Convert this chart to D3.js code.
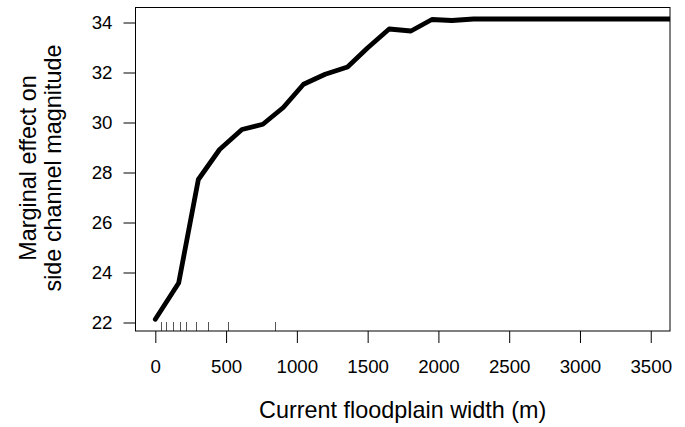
<!DOCTYPE html>
<html>
<head>
<meta charset="utf-8">
<script src="https://cdn.jsdelivr.net/npm/d3@7"></script>
<style>
html,body{margin:0;padding:0;background:#fff;}
svg{display:block;font-family:"Liberation Sans",Arial,Helvetica,sans-serif;}
</style>
</head>
<body>
<svg id="chart" width="685" height="427"></svg>
<script>
// Partial dependence values
const widthX = [0, 165, 304, 454, 612, 760, 904, 1047, 1200, 1358, 1497, 1652, 1806, 1954, 2095, 2248, 2500, 3000, 3700];
const effectY = [22.13, 23.58, 27.72, 28.92, 29.72, 29.93, 30.60, 31.53, 31.93, 32.22, 32.97, 33.74, 33.66, 34.12, 34.08, 34.14, 34.14, 34.14, 34.14];
// rug (deciles of floodplain width)
const rugX = [42, 78, 125, 172, 219, 288, 373, 516, 846];
const xTicks = [0, 500, 1000, 1500, 2000, 2500, 3000, 3500];
const yTicks = [22, 24, 26, 28, 30, 32, 34];
const xLabel = "Current floodplain width (m)";
const yLabelLines = ["Marginal effect on", "side channel magnitude"];

const svg = d3.select("#chart");
const L = 135.5, R = 670, T = 7, B = 331;
const x = d3.scaleLinear().domain([-140, 3636]).range([L, R]);
const y = d3.scaleLinear().domain([21.66, 34.62]).range([B, T]);

svg.append("defs").append("clipPath").attr("id", "clip")
  .append("rect").attr("x", L).attr("y", T).attr("width", R - L).attr("height", B - T);

// rug
svg.append("g").selectAll("line").data(rugX).join("line")
  .attr("x1", d => Math.round(x(d)) + 0.5).attr("x2", d => Math.round(x(d)) + 0.5)
  .attr("y1", B - 9).attr("y2", B)
  .attr("stroke", "#555").attr("stroke-width", 1);

// line
const line = d3.line().x((d, i) => x(widthX[i])).y(d => y(d));
svg.append("path").datum(effectY)
  .attr("clip-path", "url(#clip)")
  .attr("d", line)
  .attr("fill", "none").attr("stroke", "#000")
  .attr("stroke-width", 4.8).attr("stroke-linejoin", "round").attr("stroke-linecap", "round");

// box
svg.append("rect").attr("x", L).attr("y", T + 0.5).attr("width", R - L).attr("height", B - T - 0.5)
  .attr("fill", "none").attr("stroke", "#000").attr("stroke-width", 1);

// x axis
const xAxis = d3.axisBottom(x).tickValues(xTicks).tickSize(12).tickPadding(17).tickFormat(d3.format("d"));
const gx = svg.append("g").attr("transform", `translate(0,${B})`).call(xAxis);
gx.select(".domain").remove();
gx.selectAll("line").attr("stroke", "#000");
gx.selectAll("text").attr("font-size", 18.7).attr("fill", "#000")
  .attr("font-family", '"Liberation Sans",Arial,sans-serif');

// y axis
const yAxis = d3.axisLeft(y).tickValues(yTicks).tickSize(12).tickPadding(11).tickFormat(d3.format("d"));
const gy = svg.append("g").attr("transform", `translate(${L},0)`).call(yAxis);
gy.select(".domain").remove();
gy.selectAll("line").attr("stroke", "#000");
gy.selectAll("text").attr("font-size", 18.7).attr("fill", "#000")
  .attr("font-family", '"Liberation Sans",Arial,sans-serif');

// axis titles
svg.append("text").attr("x", (L + R) / 2).attr("y", 418)
  .attr("text-anchor", "middle").attr("font-size", 23.4).attr("fill", "#000")
  .text(xLabel);

const yt = svg.append("g");
yLabelLines.forEach((t, i) => {
  yt.append("text")
    .attr("transform", `translate(${36 + i * 25},168) rotate(-90)`)
    .attr("text-anchor", "middle").attr("font-size", 23.4).attr("fill", "#000")
    .text(t);
});
</script>
</body>
</html>
